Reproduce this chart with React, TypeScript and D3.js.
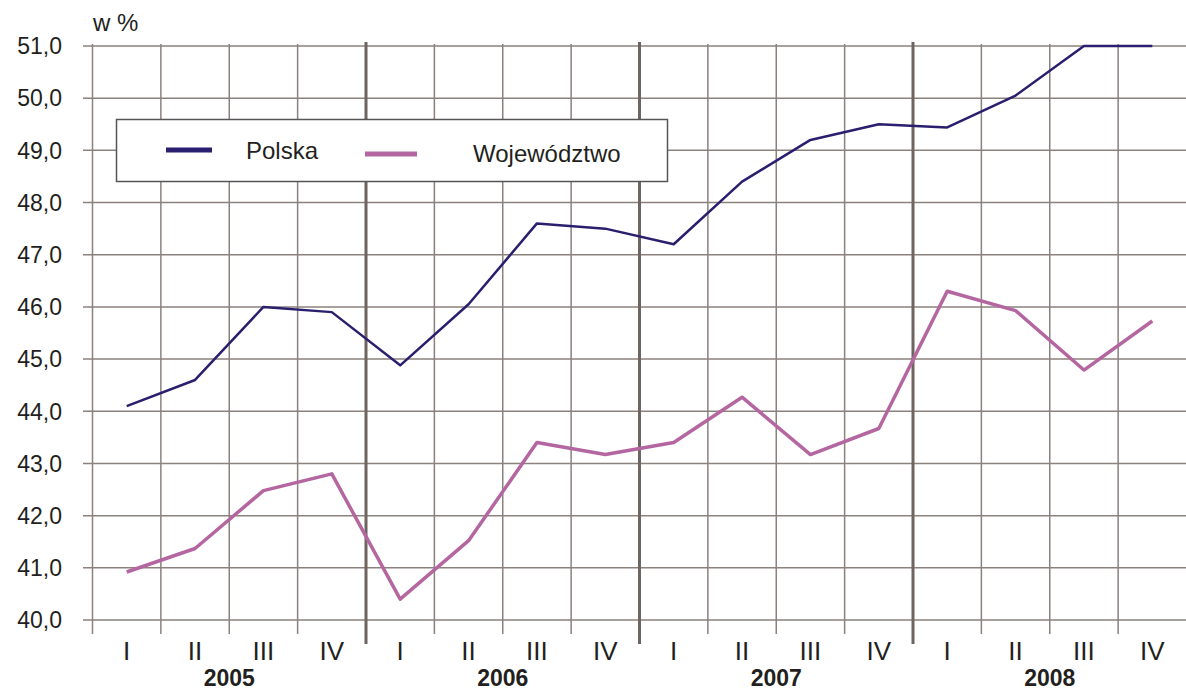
import React from 'react'
import * as d3 from 'd3'

const years = ['2005', '2006', '2007', '2008']
const quarters = ['I', 'II', 'III', 'IV']
const polska = [44.1, 44.6, 46.0, 45.9, 44.88, 46.05, 47.6, 47.5, 47.2, 48.4, 49.2, 49.5, 49.44, 50.05, 51.0, 51.0]
const wojewodztwo = [40.92, 41.37, 42.48, 42.8, 40.4, 41.52, 43.4, 43.17, 43.4, 44.27, 43.17, 43.67, 46.3, 45.93, 44.79, 45.73]
const yTicks = [40, 41, 42, 43, 44, 45, 46, 47, 48, 49, 50, 51]

const W = 1186
const H = 691
const FONT = '"Liberation Sans", Arial, sans-serif'
const NARROW = '"Liberation Sans Narrow", "Liberation Sans", Arial, sans-serif'

export default function App() {
  const periods = years.flatMap(y => quarters.map(q => `${y}-${q}`))
  const x = d3.scaleBand<string>().domain(periods).range([92.5, 1186.5]).padding(0)
  const xYear = d3.scaleBand<string>().domain(years).range([92.5, 1186.5])
  const y = d3.scaleLinear().domain([40, 51]).range([620, 46])

  const line = d3.line<number>()
    .x((_, i) => x(periods[i])! + x.bandwidth() / 2)
    .y(d => y(d))

  const grid = '#8b817d'
  const sep = '#6e6460'

  return (
    <svg width={W} height={H} style={{ position: 'absolute', left: 0, top: 0, background: '#fff' }}>
      {/* horizontal grid */}
      {yTicks.map(t => (
        <g key={t}>
          <line x1={83} x2={W} y1={y(t)} y2={y(t)} stroke={grid} strokeWidth={1.5} />
          <text x={62} y={y(t)} dy="0.36em" textAnchor="end" fontFamily={FONT} fontSize={23} fill="#231f20">
            {d3.format('.1f')(t).replace('.', ',')}
          </text>
        </g>
      ))}
      {/* vertical grid at quarter boundaries */}
      {periods.map((p, i) => i % 4 !== 0 || i === 0 ? (
        <line key={p} x1={x(p)!} x2={x(p)!} y1={44} y2={634} stroke={grid} strokeWidth={1.5} />
      ) : null)}
      {/* year separators */}
      {years.slice(1).map(yr => (
        <line key={yr} x1={xYear(yr)!} x2={xYear(yr)!} y1={42} y2={644} stroke={sep} strokeWidth={3} />
      ))}
      <text x={93} y={31} fontFamily={FONT} fontSize={24} fill="#231f20">w %</text>

      {/* legend */}
      <rect x={116.5} y={119.5} width={551} height={62} fill="#fff" stroke="#555" strokeWidth={1.5} />
      <line x1={166} x2={212} y1={150} y2={150} stroke="#2a1f6e" strokeWidth={5} />
      <text x={246} y={150} dy="0.36em" fontFamily={FONT} fontSize={24} fill="#231f20">Polska</text>
      <line x1={365} x2={417} y1={154} y2={154} stroke="#b466a0" strokeWidth={5} />
      <text x={473} y={153} dy="0.36em" fontFamily={FONT} fontSize={24} fill="#231f20">Województwo</text>

      {/* series */}
      <path d={line(wojewodztwo)!} fill="none" stroke="#b466a0" strokeWidth={3.5} strokeLinejoin="round" />
      <path d={line(polska)!} fill="none" stroke="#2a1f6e" strokeWidth={2.5} strokeLinejoin="round" />

      {/* x labels */}
      {periods.map((p, i) => (
        <text key={p} x={x(p)! + x.bandwidth() / 2} y={660} textAnchor="middle"
          fontFamily={NARROW} fontSize={26} fill="#231f20">
          {quarters[i % 4]}
        </text>
      ))}
      {years.map(yr => (
        <text key={yr} x={xYear(yr)! + xYear.bandwidth() / 2} y={686} textAnchor="middle"
          fontFamily={FONT} fontSize={23} fontWeight="bold" fill="#231f20">
          {yr}
        </text>
      ))}
    </svg>
  )
}
